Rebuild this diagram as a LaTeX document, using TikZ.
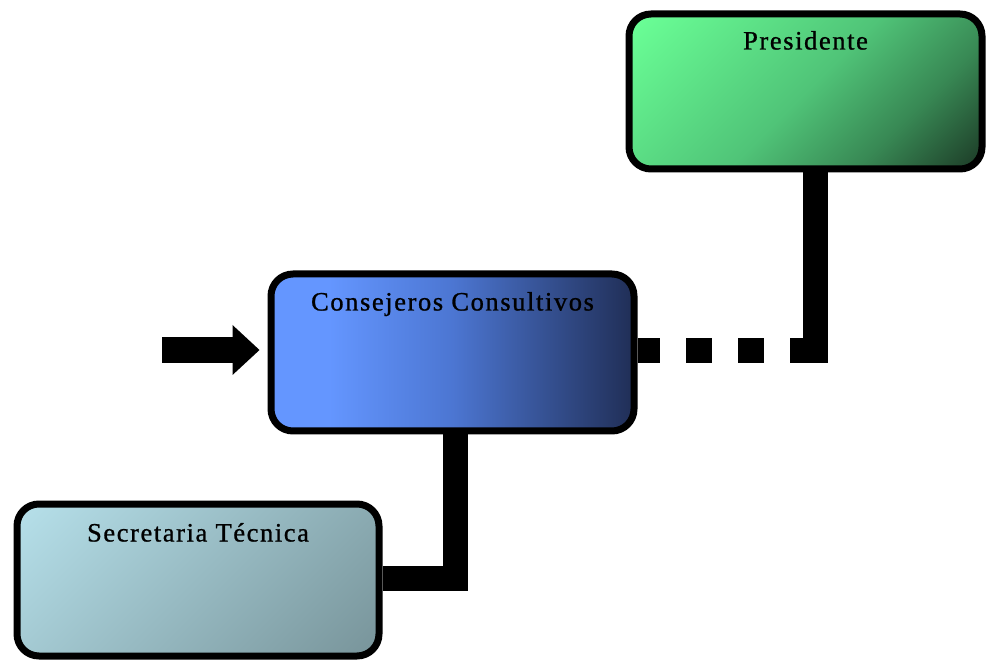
\documentclass[tikz,border=0pt]{standalone}
\usepackage{fontspec}
\setmainfont{Liberation Serif}[LetterSpace=6, FakeBold=0.9]
\usetikzlibrary{arrows.meta,backgrounds}

\definecolor{presLight}{RGB}{106,255,150}
\definecolor{presMid}{RGB}{80,196,120}
\definecolor{presDeep}{RGB}{56,136,84}
\definecolor{presDark}{RGB}{28,58,38}
\definecolor{consLight}{RGB}{100,150,255}
\definecolor{consMid}{RGB}{76,118,210}
\definecolor{consDark}{RGB}{32,46,86}
\definecolor{secLight}{RGB}{182,224,234}
\definecolor{secDark}{RGB}{120,148,154}

% gradients: the path's box maps onto 25bp--75bp of each shading
\pgfdeclareverticalshading{presShade}{100bp}{%
  color(0bp)=(presDark); color(15bp)=(presDark); color(32bp)=(presDeep);
  color(50bp)=(presMid); color(84bp)=(presLight); color(100bp)=(presLight)}
\pgfdeclarehorizontalshading{consShade}{100bp}{%
  color(0bp)=(consLight); color(33bp)=(consLight); color(50bp)=(consMid);
  color(75bp)=(consDark); color(100bp)=(consDark)}
\pgfdeclareverticalshading{secShade}{100bp}{%
  color(0bp)=(secDark); color(15bp)=(secDark);
  color(85bp)=(secLight); color(100bp)=(secLight)}

\tikzset{
  orgbox/.style={draw=black, line width=7pt, rounded corners=22pt, inner sep=0pt},
  boxtitle/.style={anchor=base, inner sep=0pt, font=\fontsize{26.5}{30}\selectfont},
  link/.style={draw=black, line width=25pt, line join=miter, line cap=butt},
  dottedlink/.style={link, dash pattern=on 26pt off 26pt},
  pointer/.style={draw=black, line width=26pt,
    -{Triangle[length=27pt, width=50pt, line width=0pt]}},
}

\begin{document}
\begin{tikzpicture}[x=1pt, y=-1pt]
  \useasboundingbox (0,0) rectangle (986,660);

  % boxes
  \node[orgbox, minimum width=353pt, minimum height=155pt,
        shading=presShade, shading angle=45] (pres) at (805.5,91.5) {};
  \node[orgbox, minimum width=363pt, minimum height=157pt,
        shading=consShade] (cons) at (452.5,352.5) {};
  \node[orgbox, minimum width=362pt, minimum height=152pt,
        shading=secShade, shading angle=45] (sec) at (198,580) {};

  % titles
  \node[boxtitle] (presT) at ([yshift=-39pt]pres.north) {Presidente};
  \node[boxtitle] (consT) at ([yshift=-40pt]cons.north) {Consejeros Consultivos};
  \node[boxtitle] (secT)  at ([yshift=-41pt]sec.north)  {Secretaria Técnica};

  % connectors
  \coordinate (pc) at (815.5,351);
  \coordinate (pcEnd) at (815.5,363.5);
  \coordinate (cc) at (455,578.5);
  \coordinate (in) at (162,350);
  \begin{scope}[on background layer]
    \draw[link] (pc |- pres.south) -- (pcEnd);
    \draw[dottedlink] (pc) -- (pc -| cons.east);
    \draw[link] (cc |- cons.south) -- (cc) -- (cc -| sec.east);
  \end{scope}
  \draw[pointer, shorten >=8pt] (in) -- (in -| cons.west);
\end{tikzpicture}
\end{document}
